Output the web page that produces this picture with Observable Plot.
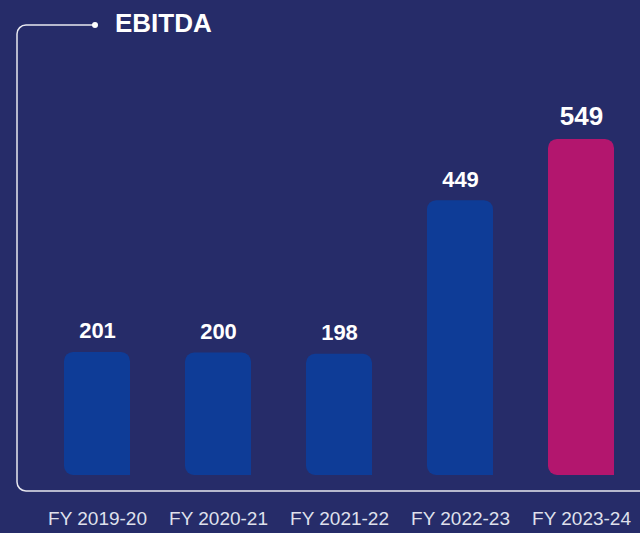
<!DOCTYPE html>
<html><head><meta charset="utf-8">
<script src="https://cdn.jsdelivr.net/npm/d3@7"></script>
<script src="https://cdn.jsdelivr.net/npm/@observablehq/plot@0.6"></script>
<style>
html,body{margin:0;padding:0;background:#262c69;}
#chart{position:relative;width:640px;height:533px;overflow:hidden;}
</style></head>
<body><div id="chart"></div>
<script>
const title = "EBITDA";
const years = ["FY 2019-20","FY 2020-21","FY 2021-22","FY 2022-23","FY 2023-24"];
const values = [201, 200, 198, 449, 549];
const barColors = ["#0e3c97","#0e3c97","#0e3c97","#0e3c97","#b3166e"];
const highlightYear = "FY 2023-24";

const data = years.map((y,i)=>({year:y, value:values[i], color:barColors[i]}));

const W = 640, H = 533;
const plot = Plot.plot({
  width: W, height: H,
  marginLeft: 39, marginRight: 1, marginTop: 0, marginBottom: 58,
  style: {background:"transparent", fontFamily:"'Liberation Sans', Arial, sans-serif"},
  x: {domain: years, paddingInner: 0.453, paddingOuter: 0.2, label: null},
  y: {domain: [0, 776], axis: null},
  marks: [
    Plot.barY(data, {x:"year", y:"value", fill:"color", rx:9, className:"bars"}),
    Plot.text(data, {x:"year", y:"value", text:d=>String(d.value), dy:-14, lineAnchor:"bottom",
      fill:"#ffffff", fontSize:d=>d.year===highlightYear?26:22, fontWeight:"bold"}),
    Plot.axisX({tickSize:0, tickPadding:36, fontSize:19, color:"#dfe0ec", label:null})
  ]
});
document.getElementById("chart").appendChild(plot);

const svg = d3.select(plot);
svg.selectAll("g.bars rect").each(function(){
  const r = d3.select(this);
  const x = +r.attr("x"), y = +r.attr("y"), w = +r.attr("width"), h = +r.attr("height");
  svg.select("g.bars").append("rect")
    .attr("x", x + w - 11).attr("y", y + h - 11).attr("width", 11).attr("height", 11)
    .attr("fill", r.attr("fill"));
});
const base = plot.scale("y").apply(0) + 16;
const rr = 9;
const lx = 17, ty = 25, dx = 95;
svg.append("path")
  .attr("d", `M${dx},${ty} H${lx+rr} A${rr},${rr} 0 0 0 ${lx},${ty+rr} V${base-rr} A${rr},${rr} 0 0 0 ${lx+rr},${base} H${W}`)
  .attr("fill","none").attr("stroke","#e8e8f0").attr("stroke-width",1.5);
svg.append("circle").attr("cx", dx).attr("cy", ty).attr("r", 3).attr("fill","#ffffff");
svg.append("text").attr("x", 115).attr("y", 32).attr("text-anchor","start")
  .attr("fill","#ffffff").attr("font-size", 26).attr("font-weight","bold")
  .attr("font-family","'Liberation Sans', Arial, sans-serif").text(title);
</script></body></html>
